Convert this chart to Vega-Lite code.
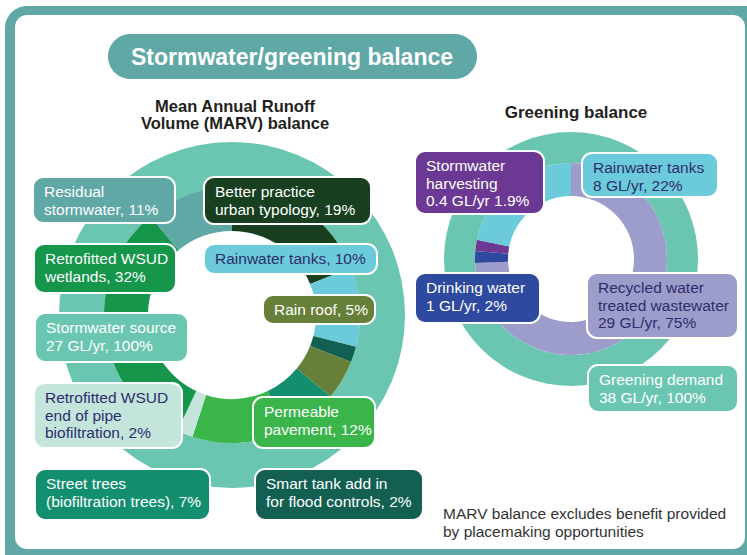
{
  "$schema": "https://vega.github.io/schema/vega-lite/v6.json",
  "width": 747,
  "height": 555,
  "padding": 0,
  "autosize": {"type": "none"},
  "background": "white",
  "config": {"view": {"stroke": null}, "axis": {"disable": true}, "font": "Liberation Sans"},
  "datasets": {
    "marv": [
      {"name": "Better practice urban typology", "value": 19},
      {"name": "Rainwater tanks", "value": 10},
      {"name": "Smart tank add in", "value": 2},
      {"name": "Rain roof", "value": 5},
      {"name": "Street trees", "value": 7},
      {"name": "Permeable pavement", "value": 12},
      {"name": "Retrofitted WSUD end of pipe", "value": 2},
      {"name": "Retrofitted WSUD wetlands", "value": 32},
      {"name": "Residual stormwater", "value": 11}
    ],
    "marvSource": [{"name": "Stormwater source", "value": 100}],
    "greening": [
      {"name": "Recycled water", "value": 75},
      {"name": "Drinking water", "value": 2},
      {"name": "Stormwater harvesting", "value": 1.9},
      {"name": "Rainwater tanks", "value": 22}
    ],
    "greeningDemand": [{"name": "Greening demand", "value": 100}],
    "labels": [
      {"name": "Residual stormwater", "text": "Residual\nstormwater, 11%", "x1": 33, "y1": 177, "x2": 175, "y2": 223},
      {"name": "Better practice urban typology", "text": "Better practice\nurban typology, 19%", "x1": 204, "y1": 177, "x2": 371, "y2": 224},
      {"name": "Rainwater tanks", "text": "Rainwater tanks, 10%", "x1": 204, "y1": 244, "x2": 377, "y2": 274},
      {"name": "Retrofitted WSUD wetlands", "text": "Retrofitted WSUD\nwetlands, 32%", "x1": 34, "y1": 244, "x2": 176, "y2": 293},
      {"name": "Rain roof", "text": "Rain roof, 5%", "x1": 263, "y1": 295, "x2": 375, "y2": 324},
      {"name": "Stormwater source", "text": "Stormwater source\n27 GL/yr, 100%", "x1": 35, "y1": 313, "x2": 188, "y2": 362},
      {"name": "Retrofitted WSUD end of pipe", "text": "Retrofitted WSUD\nend of pipe\nbiofiltration, 2%", "x1": 34, "y1": 383, "x2": 182, "y2": 448},
      {"name": "Permeable pavement", "text": "Permeable\npavement, 12%", "x1": 253, "y1": 397, "x2": 375, "y2": 448},
      {"name": "Street trees", "text": "Street trees\n(biofiltration trees), 7%", "x1": 35, "y1": 469, "x2": 210, "y2": 520},
      {"name": "Smart tank add in", "text": "Smart tank add in\nfor flood controls, 2%", "x1": 255, "y1": 469, "x2": 423, "y2": 520},
      {"name": "Stormwater harvesting", "text": "Stormwater\nharvesting\n0.4 GL/yr 1.9%", "x1": 415, "y1": 151, "x2": 544, "y2": 214},
      {"name": "Rainwater tanks", "text": "Rainwater tanks\n8 GL/yr, 22%", "x1": 582, "y1": 153, "x2": 718, "y2": 197},
      {"name": "Drinking water", "text": "Drinking water\n1 GL/yr, 2%", "x1": 415, "y1": 273, "x2": 540, "y2": 323},
      {"name": "Recycled water", "text": "Recycled water\ntreated wastewater\n29 GL/yr, 75%", "x1": 587, "y1": 273, "x2": 738, "y2": 338},
      {"name": "Greening demand", "text": "Greening demand\n38 GL/yr, 100%", "x1": 588, "y1": 365, "x2": 738, "y2": 412}
    ]
  },
  "layer": [
    {
      "data": {"values": [{}]},
      "mark": {"type": "rect", "cornerRadius": 22, "fill": "#5fa8a6", "clip": true},
      "encoding": {
        "x": {"datum": 5, "type": "quantitative", "scale": {"domain": [0, 747], "nice": false, "zero": false}},
        "x2": {"datum": 790},
        "y": {"datum": 6, "type": "quantitative", "scale": {"domain": [0, 555], "nice": false, "zero": false, "reverse": true}},
        "y2": {"datum": 590}
      }
    },
    {
      "data": {"values": [{}]},
      "mark": {"type": "rect", "cornerRadius": 12, "fill": "white"},
      "encoding": {
        "x": {"datum": 15, "type": "quantitative", "scale": {"domain": [0, 747], "nice": false, "zero": false}},
        "x2": {"datum": 745},
        "y": {"datum": 15, "type": "quantitative", "scale": {"domain": [0, 555], "nice": false, "zero": false, "reverse": true}},
        "y2": {"datum": 549}
      }
    },
    {
      "data": {"values": [{}]},
      "mark": {"type": "rect", "cornerRadius": 22.5, "fill": "#5fa8a6"},
      "encoding": {
        "x": {"datum": 108, "type": "quantitative", "scale": {"domain": [0, 747], "nice": false, "zero": false}},
        "x2": {"datum": 477},
        "y": {"datum": 34, "type": "quantitative", "scale": {"domain": [0, 555], "nice": false, "zero": false, "reverse": true}},
        "y2": {"datum": 79}
      }
    },
    {
      "data": {"values": [{}]},
      "mark": {"type": "text", "align": "center", "baseline": "alphabetic", "fontSize": 23, "fontWeight": "bold", "color": "white"},
      "encoding": {
        "x": {"datum": 292, "type": "quantitative", "scale": {"domain": [0, 747], "nice": false, "zero": false}},
        "y": {"datum": 64.5, "type": "quantitative", "scale": {"domain": [0, 555], "nice": false, "zero": false, "reverse": true}},
        "text": {"value": "Stormwater/greening balance"}
      }
    },
    {
      "data": {"values": [{}]},
      "mark": {"type": "text", "align": "center", "baseline": "alphabetic", "fontSize": 16.5, "fontWeight": "bold", "color": "#231f20", "lineHeight": 17, "lineBreak": "\n"},
      "encoding": {
        "x": {"datum": 235, "type": "quantitative", "scale": {"domain": [0, 747], "nice": false, "zero": false}},
        "y": {"datum": 112, "type": "quantitative", "scale": {"domain": [0, 555], "nice": false, "zero": false, "reverse": true}},
        "text": {"value": "Mean Annual Runoff\nVolume (MARV) balance"}
      }
    },
    {
      "data": {"values": [{}]},
      "mark": {"type": "text", "align": "center", "baseline": "alphabetic", "fontSize": 17, "fontWeight": "bold", "color": "#231f20"},
      "encoding": {
        "x": {"datum": 576, "type": "quantitative", "scale": {"domain": [0, 747], "nice": false, "zero": false}},
        "y": {"datum": 118, "type": "quantitative", "scale": {"domain": [0, 555], "nice": false, "zero": false, "reverse": true}},
        "text": {"value": "Greening balance"}
      }
    },
    {
      "data": {"name": "marvSource"},
      "transform": [{"stack": "value", "groupby": [], "as": ["v0", "v1"]}],
      "mark": {"type": "arc", "radius": 173, "radius2": 128},
      "encoding": {
        "x": {"datum": 232, "type": "quantitative", "stack": false, "scale": {"domain": [0, 747], "nice": false, "zero": false}},
        "y": {"datum": 315, "type": "quantitative", "stack": false, "scale": {"domain": [0, 555], "nice": false, "zero": false, "reverse": true}},
        "theta": {"field": "v0", "type": "quantitative", "scale": {"domain": [0, 100]}},
        "theta2": {"field": "v1"},
        "color": {"field": "name", "type": "nominal", "legend": null}
      }
    },
    {
      "data": {"name": "marv"},
      "transform": [{"stack": "value", "groupby": [], "as": ["v0", "v1"]}],
      "mark": {"type": "arc", "radius": 128, "radius2": 84},
      "encoding": {
        "x": {"datum": 232, "type": "quantitative", "stack": false, "scale": {"domain": [0, 747], "nice": false, "zero": false}},
        "y": {"datum": 315, "type": "quantitative", "stack": false, "scale": {"domain": [0, 555], "nice": false, "zero": false, "reverse": true}},
        "theta": {"field": "v0", "type": "quantitative", "scale": {"domain": [0, 100]}},
        "theta2": {"field": "v1"},
        "color": {"field": "name", "type": "nominal", "legend": null}
      }
    },
    {
      "data": {"name": "greeningDemand"},
      "transform": [{"stack": "value", "groupby": [], "as": ["v0", "v1"]}],
      "mark": {"type": "arc", "radius": 127, "radius2": 96},
      "encoding": {
        "x": {"datum": 571, "type": "quantitative", "stack": false, "scale": {"domain": [0, 747], "nice": false, "zero": false}},
        "y": {"datum": 259, "type": "quantitative", "stack": false, "scale": {"domain": [0, 555], "nice": false, "zero": false, "reverse": true}},
        "theta": {"field": "v0", "type": "quantitative", "scale": {"domain": [0, 100]}},
        "theta2": {"field": "v1"},
        "color": {"field": "name", "type": "nominal", "legend": null}
      }
    },
    {
      "data": {"name": "greening"},
      "transform": [{"stack": "value", "groupby": [], "as": ["v0", "v1"]}],
      "mark": {"type": "arc", "radius": 96, "radius2": 63},
      "encoding": {
        "x": {"datum": 571, "type": "quantitative", "stack": false, "scale": {"domain": [0, 747], "nice": false, "zero": false}},
        "y": {"datum": 259, "type": "quantitative", "stack": false, "scale": {"domain": [0, 555], "nice": false, "zero": false, "reverse": true}},
        "theta": {"field": "v0", "type": "quantitative", "scale": {"domain": [0, 100.9]}},
        "theta2": {"field": "v1"},
        "color": {"field": "name", "type": "nominal", "legend": null}
      }
    },
    {
      "data": {"name": "labels"},
      "mark": {"type": "rect", "cornerRadius": 10, "stroke": "white", "strokeWidth": 2},
      "encoding": {
        "x": {"field": "x1", "type": "quantitative", "scale": {"domain": [0, 747], "nice": false, "zero": false}},
        "x2": {"field": "x2"},
        "y": {"field": "y1", "type": "quantitative", "scale": {"domain": [0, 555], "nice": false, "zero": false, "reverse": true}},
        "y2": {"field": "y2"},
        "color": {
          "field": "name", "type": "nominal", "legend": null,
          "scale": {
            "domain": ["Better practice urban typology", "Rainwater tanks", "Smart tank add in", "Rain roof", "Street trees", "Permeable pavement", "Retrofitted WSUD end of pipe", "Retrofitted WSUD wetlands", "Residual stormwater", "Stormwater source", "Recycled water", "Drinking water", "Stormwater harvesting", "Greening demand"],
            "range": ["#173f20", "#6bcbdb", "#135f52", "#66803a", "#138f70", "#39b54a", "#c3e5dc", "#15964a", "#5fa8a6", "#6ac6b1", "#9d9dcc", "#2e4a9e", "#6b3994", "#6ac6b1"]
          }
        }
      }
    },
    {
      "data": {"name": "labels"},
      "mark": {"type": "text", "align": "left", "baseline": "alphabetic", "dx": 11, "dy": 20, "fontSize": 15.5, "lineHeight": 17.5, "lineBreak": "\n"},
      "encoding": {
        "x": {"field": "x1", "type": "quantitative", "scale": {"domain": [0, 747], "nice": false, "zero": false}},
        "y": {"field": "y1", "type": "quantitative", "scale": {"domain": [0, 555], "nice": false, "zero": false, "reverse": true}},
        "text": {"field": "text"},
        "color": {
          "condition": {"test": "indexof(['Rainwater tanks', 'Retrofitted WSUD end of pipe', 'Recycled water'], datum.name) >= 0", "value": "#2e2d6b"},
          "value": "white"
        }
      }
    },
    {
      "data": {"values": [{}]},
      "mark": {"type": "text", "align": "left", "baseline": "alphabetic", "fontSize": 15.5, "lineHeight": 18, "color": "#333333", "lineBreak": "\n"},
      "encoding": {
        "x": {"datum": 443, "type": "quantitative", "scale": {"domain": [0, 747], "nice": false, "zero": false}},
        "y": {"datum": 519, "type": "quantitative", "scale": {"domain": [0, 555], "nice": false, "zero": false, "reverse": true}},
        "text": {"value": "MARV balance excludes benefit provided\nby placemaking opportunities"}
      }
    }
  ],
  "resolve": {"scale": {"theta": "independent"}}
}
